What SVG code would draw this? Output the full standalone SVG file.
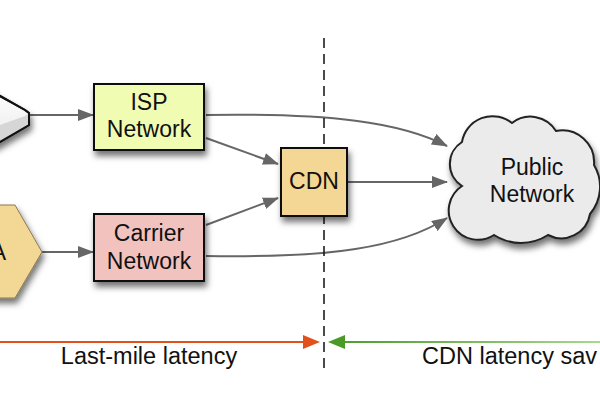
<svg xmlns="http://www.w3.org/2000/svg" width="600" height="400" viewBox="0 0 600 400">
<defs>
<style>
.box{stroke:#111;stroke-width:2}
.lbl{font-family:"Liberation Sans",Arial,sans-serif;font-size:23px;fill:#111;text-anchor:middle}
.bl{font-family:"Liberation Sans",Arial,sans-serif;font-size:23.5px;fill:#111}
.conn{fill:none;stroke:#666;stroke-width:2}
</style>
<filter id="sh" x="-20%" y="-20%" width="150%" height="160%">
<feDropShadow dx="2" dy="5" stdDeviation="3" flood-color="#000" flood-opacity="0.55"/>
</filter>
<marker id="ah" markerUnits="userSpaceOnUse" markerWidth="16" markerHeight="12" viewBox="0 0 16 12" refX="15" refY="6" orient="auto">
<path d="M0,0 L16,6 L0,12 Z" fill="#666"/>
</marker>
<linearGradient id="wg" x1="0" y1="0" x2="0" y2="1">
<stop offset="0" stop-color="#ffffff"/>
<stop offset="1" stop-color="#e8e8e8"/>
</linearGradient>
<linearGradient id="gg" gradientUnits="userSpaceOnUse" x1="330" y1="0" x2="600" y2="0">
<stop offset="0" stop-color="#4a9a26"/>
<stop offset="1" stop-color="#a8d890"/>
</linearGradient>
</defs>
<rect width="600" height="400" fill="#fff"/>

<g id="connectors">
<path class="conn" d="M29,115 L93,115" marker-end="url(#ah)"/>
<path class="conn" d="M42,252 L93,252" marker-end="url(#ah)"/>
<path class="conn" d="M206,138 L278,164" marker-end="url(#ah)"/>
<path class="conn" d="M206,225 L278,198" marker-end="url(#ah)"/>
<path class="conn" d="M206,115 C330,113 400,122 447,146" marker-end="url(#ah)"/>
<path class="conn" d="M348,182 L447,182" marker-end="url(#ah)"/>
<path class="conn" d="M206,256 C330,258 400,248 447,218" marker-end="url(#ah)"/>
</g>

<g id="divider">
<line x1="324" y1="38" x2="324" y2="373" stroke="#111" stroke-width="1.5" stroke-dasharray="10 6"/>
</g>

<g id="device-top">
<g filter="url(#sh)">
<polygon points="-20,85 0,96 25,110 29,113 29,125 0,142 -20,153" fill="url(#wg)" stroke="#111" stroke-width="2"/>
</g>
<polygon points="0,125 25,116 29,113 29,125 0,142" fill="#d6d6d6"/>
<polygon points="-20,85 0,96 25,110 29,113 29,125 0,142 -20,153" fill="none" stroke="#111" stroke-width="2"/>
</g>

<g id="device-bottom">
<polygon points="-15,205 15,205 42,252 15,298 -15,298" fill="#f3d795" stroke="#8a7a50" stroke-width="1" filter="url(#sh)"/>
<text class="lbl" x="6" y="260" style="text-anchor:end">A</text>
</g>

<g id="isp">
<rect class="box" x="94" y="84" width="110" height="66" fill="#f1fcb3" filter="url(#sh)"/>
<text class="lbl" x="149" y="110">ISP</text>
<text class="lbl" x="149" y="137">Network</text>
</g>

<g id="carrier">
<rect class="box" x="94" y="214" width="110" height="67" fill="#f2c3be" filter="url(#sh)"/>
<text class="lbl" x="149" y="241">Carrier</text>
<text class="lbl" x="149" y="269">Network</text>
</g>

<g id="cdn">
<rect class="box" x="281" y="148" width="66" height="68" fill="#f4d794" filter="url(#sh)"/>
<text class="lbl" x="314" y="189">CDN</text>
</g>

<g id="public">
<path d="M462,186 A26,26 0 0 1 462,142 A31,31 0 0 1 512,123 A30,30 0 0 1 556,131 A32,32 0 0 1 594,165 A42,42 0 0 1 590,214 A29,29 0 0 1 548,235 A50,50 0 0 1 494,235 A26,26 0 0 1 462,186 Z" fill="#ebebeb" stroke="#222" stroke-width="2" filter="url(#sh)"/>
<text class="lbl" x="532" y="175">Public</text>
<text class="lbl" x="532" y="202">Network</text>
</g>

<g id="latency">
<line x1="0" y1="342" x2="305" y2="342" stroke="#e2501c" stroke-width="2"/>
<polygon points="303,335 320,342 303,349" fill="#e2501c"/>
<line x1="343" y1="342" x2="600" y2="342" stroke="url(#gg)" stroke-width="2"/>
<polygon points="345,335 328,342 345,349" fill="#4a9a26"/>
<text class="bl" x="149" y="364" text-anchor="middle">Last-mile latency</text>
<text class="bl" x="422" y="364">CDN latency sav</text>
</g>
</svg>
